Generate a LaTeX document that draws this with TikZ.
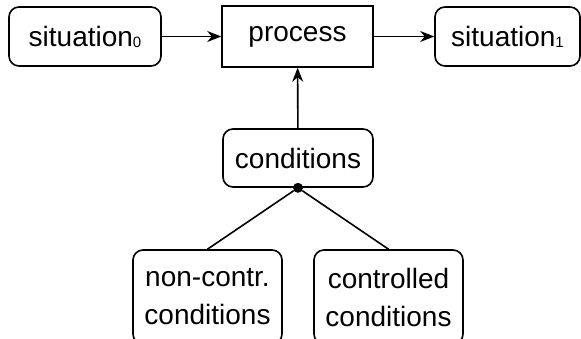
\documentclass[tikz,border=0pt]{standalone}
\usepackage{fontspec}
\setmainfont{Liberation Sans}
\usetikzlibrary{arrows.meta}
\newcommand{\sitidx}[1]{\raisebox{-1pt}{\fontsize{15}{15}\selectfont #1}}

\begin{document}
\begin{tikzpicture}[x=1pt, y=1pt,
    box/.style={draw, line width=1.6pt, rounded corners=10pt, minimum height=59pt,
      inner sep=0pt, align=center, font=\fontsize{28}{38}\selectfont},
    procbox/.style={draw, line width=1.6pt, minimum width=151pt, minimum height=61pt,
      inner sep=0pt, font=\fontsize{28}{38}\selectfont},
    flow/.style={-{Stealth[length=14pt,width=11pt]}, line width=1.6pt}]
  \clip (0,0) rectangle (581,338);

  \draw (85,301.5) node[box, minimum width=152pt] (S0) {situation\sitidx{0}};
  \draw (297.5,301.5) node[procbox] (P) {process};
  \draw (507.5,301.5) node[box, minimum width=145pt] (S1) {situation\sitidx{1}};

  \draw (298,180) node[box, minimum width=150pt, minimum height=58pt] (C) {conditions};
  \draw (207.5,41) node[box, minimum width=149pt, minimum height=94pt] (NC) {non-contr.\\conditions};
  \draw (388.5,41) node[box, minimum width=149pt, minimum height=94pt] (CC) {controlled\\conditions};

  \draw[flow] (S0) -- (P);
  \draw[flow] (P) -- (S1);
  \draw[flow] (C) -- (P);

  \node[circle, fill, inner sep=0pt, minimum size=10pt] (dot) at (C.south) {};
  \draw[line width=1.6pt] (dot) -- (NC.north);
  \draw[line width=1.6pt] (dot) -- (CC.north);
\end{tikzpicture}
\end{document}
